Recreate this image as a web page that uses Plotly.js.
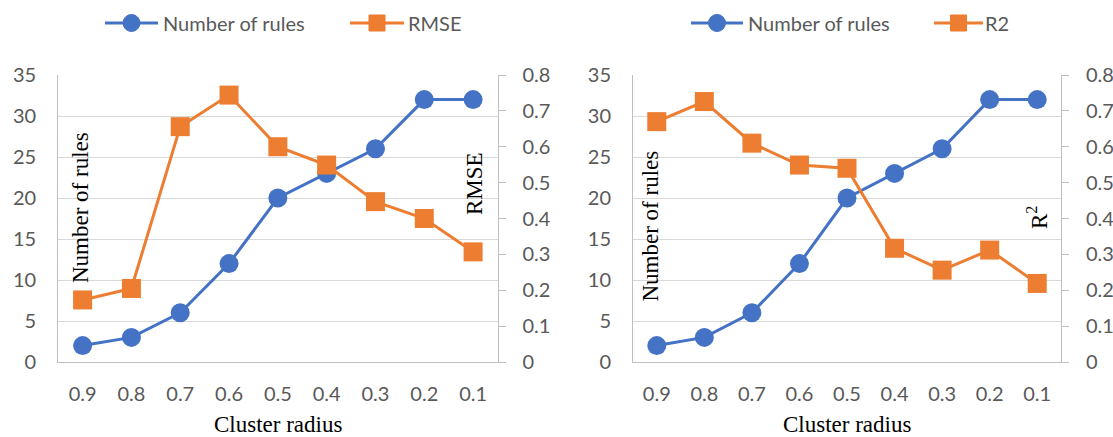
<!DOCTYPE html>
<html>
<head>
<meta charset="utf-8">
<script src="https://cdn.plot.ly/plotly-3.0.1.min.js"></script>
<style>html,body{margin:0;padding:0;background:#fff;}#chart{width:1113px;height:437px;}</style>
</head>
<body>
<div id="chart"></div>
<script>
const clusterRadius = ['0.9', '0.8', '0.7', '0.6', '0.5', '0.4', '0.3', '0.2', '0.1'];
const numberOfRules = [2, 3, 6, 12, 20, 23, 26, 32, 32];
const rmse = [0.173, 0.205, 0.656, 0.744, 0.600, 0.549, 0.447, 0.400, 0.307];
const r2 = [0.670, 0.726, 0.610, 0.549, 0.540, 0.317, 0.256, 0.312, 0.219];
const seriesNames = ['Number of rules', 'RMSE', 'R2'];

const W = 1113, H = 437;
const BLUE = '#4472C4', ORANGE = '#ED7D31';
const tickFont = {family: 'Lato, "Open Sans", sans-serif', size: 20, color: '#595959'};
const titleFont = {family: '"Liberation Serif", "Times New Roman", serif', size: 23, color: '#000'};

function line(y, name, color, symbol, xa, ya) {
  return {x: clusterRadius, y: y, name: name, type: 'scatter', mode: 'lines+markers',
    xaxis: xa, yaxis: ya, showlegend: false, cliponaxis: false,
    line: {color: color, width: 3},
    marker: {color: color, symbol: symbol, size: 19}};
}

const data = [
  line(numberOfRules, seriesNames[0], BLUE, 'circle', 'x', 'y'),
  line(rmse, seriesNames[1], ORANGE, 'square', 'x', 'y2'),
  line(numberOfRules, seriesNames[0], BLUE, 'circle', 'x2', 'y3'),
  line(r2, seriesNames[2], ORANGE, 'square', 'x2', 'y4')
];

const yDom = [1 - 362 / H, 1 - 75 / H];
function xax(dom) {
  return {domain: dom, type: 'category', range: [-0.5, 8.5], showgrid: false, zeroline: false,
    showline: true, linecolor: '#bfbfbf', linewidth: 1, ticks: '', tickfont: tickFont,
    ticklabelstandoff: 14, automargin: false, fixedrange: true};
}
function yleft(anchor) {
  return {domain: yDom, anchor: anchor, range: [0, 35], dtick: 5, tick0: 0, showgrid: true,
    gridcolor: '#d9d9d9', gridwidth: 1, zeroline: false, showline: true, linecolor: '#bfbfbf',
    ticks: '', tickfont: tickFont, ticklabelstandoff: 17, automargin: false};
}
function yright(anchor, over) {
  return {domain: yDom, anchor: anchor, overlaying: over, side: 'right', range: [0, 0.8], dtick: 0.1,
    tick0: 0, showgrid: false, zeroline: false, showline: true, linecolor: '#bfbfbf',
    ticks: 'outside', ticklen: 7, tickcolor: '#bfbfbf', tickfont: tickFont,
    ticklabelstandoff: 13, automargin: false};
}

function ann(text, x, y, angle, font, xanchor) {
  return {text: text, xref: 'paper', yref: 'paper', x: x / W, y: 1 - y / H,
    xanchor: xanchor || 'center', yanchor: 'middle',
    showarrow: false, textangle: angle, font: font};
}

// Custom legends (line + marker + label), drawn in paper pixels
const LEG_Y = 23;
const shapes = [];
const legendAnns = [];
function legendItem(x0, x1, color, kind, r, label, textX) {
  const yc = 1 - LEG_Y / H;
  shapes.push({type: 'line', xref: 'paper', yref: 'paper', x0: x0 / W, x1: x1 / W, y0: yc, y1: yc,
    line: {color: color, width: 3}});
  const cx = (x0 + x1) / 2;
  shapes.push({type: kind, xref: 'paper', yref: 'paper', x0: (cx - r) / W, x1: (cx + r) / W,
    y0: 1 - (LEG_Y + r) / H, y1: 1 - (LEG_Y - r) / H, fillcolor: color, line: {color: color, width: 1}});
  legendAnns.push(ann(label, textX, LEG_Y, 0, tickFont, 'left'));
}
legendItem(105, 158, BLUE, 'circle', 8.5, seriesNames[0], 160.5);
legendItem(350, 404, ORANGE, 'rect', 8, seriesNames[1], 406);
legendItem(691, 743, BLUE, 'circle', 8.5, seriesNames[0], 746);
legendItem(934, 983, ORANGE, 'rect', 8, seriesNames[2], 983);

const layout = {
  width: W, height: H,
  margin: {l: 0, r: 0, t: 0, b: 0},
  paper_bgcolor: '#fff', plot_bgcolor: '#fff',
  showlegend: false,
  xaxis: xax([58.2 / W, 497.5 / W]),
  yaxis: yleft('x'),
  yaxis2: yright('x', 'y'),
  xaxis2: xax([633 / W, 1061 / W]),
  yaxis3: yleft('x2'),
  yaxis4: yright('x2', 'y3'),
  shapes: shapes,
  annotations: [
    ann('Number of rules', 80, 208, -90, titleFont),
    ann('RMSE', 474, 184, -90, titleFont),
    ann('Cluster radius', 277.5, 424, 0, titleFont),
    ann('Number of rules', 649.5, 226, -90, titleFont),
    ann('R<sup>2</sup>', 1038, 218, -90, titleFont),
    ann('Cluster radius', 847, 424, 0, titleFont)
  ].concat(legendAnns)
};

Plotly.newPlot('chart', data, layout, {displayModeBar: false, staticPlot: true});
</script>
</body>
</html>
